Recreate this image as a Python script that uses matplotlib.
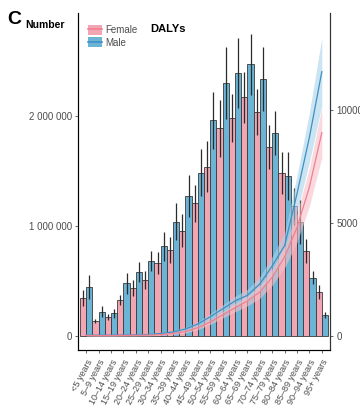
import numpy as np
import matplotlib.pyplot as plt
from matplotlib.patches import Patch
from matplotlib.lines import Line2D
from matplotlib.ticker import FuncFormatter

plt.rcParams['font.family'] = ['Liberation Sans', 'DejaVu Sans']

ages = ['<5 years', '5–9 years', '10–14 years', '15–19 years', '20–24 years',
        '25–29 years', '30–34 years', '35–39 years', '40–44 years', '45–49 years',
        '50–54 years', '55–59 years', '60–64 years', '65–69 years', '70–74 years',
        '75–79 years', '80–84 years', '85–89 years', '90–94 years', '95+ years']

# DALYs (number), millions
female_num = [0.345, 0.136, 0.175, 0.325, 0.435, 0.51, 0.665, 0.78, 0.955, 1.205,
              1.54, 1.89, 1.98, 2.17, 2.04, 1.72, 1.485, 1.18, 0.77, 0.40]
female_err = [0.07, 0.02, 0.025, 0.045, 0.07, 0.08, 0.10, 0.12, 0.15, 0.17,
              0.23, 0.26, 0.22, 0.23, 0.21, 0.20, 0.19, 0.17, 0.11, 0.06]
male_num = [0.445, 0.22, 0.205, 0.48, 0.585, 0.68, 0.815, 1.04, 1.27, 1.485,
            1.96, 2.30, 2.39, 2.47, 2.34, 1.85, 1.455, 1.04, 0.53, 0.19]
male_err = [0.11, 0.05, 0.04, 0.095, 0.09, 0.09, 0.13, 0.17, 0.19, 0.215,
            0.26, 0.33, 0.32, 0.28, 0.29, 0.20, 0.22, 0.20, 0.06, 0.03]

# DALYs rate (per 100 000), smoothed
male_rate = [40, 35, 35, 40, 50, 65, 110, 180, 310, 530,
             850, 1200, 1550, 1800, 2300, 3100, 4000, 6300, 8800, 11700]
male_band = [30, 30, 30, 30, 35, 40, 50, 60, 80, 100,
             130, 170, 210, 260, 330, 420, 560, 800, 1100, 1500]
female_rate = [25, 20, 20, 25, 30, 40, 60, 110, 200, 370,
               620, 930, 1250, 1550, 1950, 2600, 3500, 4800, 6600, 9000]
female_band = [25, 25, 25, 25, 30, 35, 40, 50, 70, 90,
               110, 140, 180, 220, 280, 360, 480, 650, 850, 1100]

pink = '#F2A6B4'
blue = '#6CB4D6'
pink_line = '#F0808F'
blue_line = '#3F8FC4'
grey = '#4D4D4D'

fig = plt.figure(figsize=(3.6, 4.09), dpi=100)
ax = fig.add_axes([0.2167, 0.1443, 0.7, 0.8237])

x = np.arange(len(ages))
w = 0.5
ekw = dict(ecolor='#2B2B2B', elinewidth=0.9, capsize=0)
ax.bar(x - w / 2, np.array(female_num) * 1e6, w, color=pink,
       edgecolor='#3A3A3A', linewidth=0.6,
       yerr=np.array(female_err) * 1e6, error_kw=ekw)
ax.bar(x + w / 2, np.array(male_num) * 1e6, w, color=blue,
       edgecolor='#3A3A3A', linewidth=0.6,
       yerr=np.array(male_err) * 1e6, error_kw=ekw)

ax.set_xlim(-0.66, 19.66)
ax.set_ylim(-0.127e6, 2.936e6)
ax.set_yticks([0, 1e6, 2e6])
ax.yaxis.set_major_formatter(FuncFormatter(
    lambda v, p: '{:,.0f}'.format(v).replace(',', ' ')))
ax.set_xticks(x)
ax.set_xticklabels(ages, rotation=62, ha='right', va='top',
                   rotation_mode='anchor')
ax.tick_params(axis='both', colors=grey, labelsize=7, length=2.5, width=0.6,
               pad=2)
ax.tick_params(axis='x', labelsize=6.5, pad=3)
ax.spines['top'].set_visible(False)
for s in ['left', 'bottom', 'right']:
    ax.spines[s].set_color('#333333')
    ax.spines[s].set_linewidth(0.8)

ax2 = ax.twinx()
ax2.fill_between(x, np.array(male_rate) - male_band,
                 np.array(male_rate) + male_band, color='#A8D3EA',
                 alpha=0.6, lw=0)
ax2.fill_between(x, np.array(female_rate) - female_band,
                 np.array(female_rate) + female_band, color='#F7C0C8',
                 alpha=0.6, lw=0)
ax2.plot(x, male_rate, color=blue_line, lw=0.9)
ax2.plot(x, female_rate, color=pink_line, lw=0.9)
ax2.set_ylim(-620, 14292)
ax2.set_yticks([0, 5000, 10000])
ax2.tick_params(axis='y', colors=grey, labelsize=7, length=2.5, width=0.6,
                pad=2)
ax2.spines['top'].set_visible(False)
ax2.spines['right'].set_color('#333333')
ax2.spines['right'].set_linewidth(0.8)

handles = [(Patch(facecolor=pink, edgecolor='none'),
            Line2D([], [], color=pink_line, lw=1.2)),
           (Patch(facecolor=blue, edgecolor='none'),
            Line2D([], [], color=blue_line, lw=1.2))]
ax.legend(handles, ['Female', 'Male'], loc='upper left',
          bbox_to_anchor=(0.005, 0.99), frameon=False, fontsize=7,
          handlelength=1.4, handleheight=1.2, handletextpad=0.4,
          labelspacing=0.2, labelcolor=grey)

fig.text(150 / 360, 1 - 29 / 409, 'DALYs', fontsize=8, fontweight='bold',
         va='center', ha='left')
fig.text(7 / 360, 1 - 19 / 409, 'C', fontsize=14, fontweight='bold',
         va='center', ha='left')
fig.text(25 / 360, 1 - 25 / 409, 'Number', fontsize=7.5, fontweight='bold',
         va='center', ha='left')

fig.savefig('out.png', dpi=100)
